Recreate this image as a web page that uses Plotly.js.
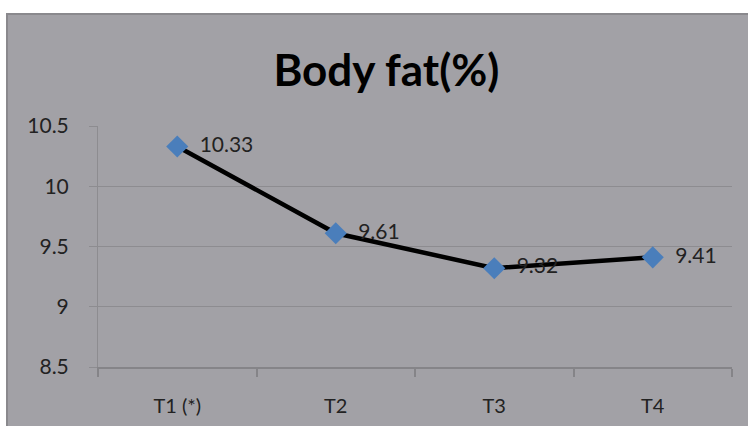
<!DOCTYPE html>
<html><head><meta charset="utf-8">
<script src="https://cdn.plot.ly/plotly-3.0.1.min.js"></script>
<style>
html,body{margin:0;padding:0;background:#fff;width:748px;height:426px;overflow:hidden;}
#frame{position:absolute;left:6px;top:13px;width:760px;height:430px;background:#a2a1a6;border:2px solid #8a898d;box-sizing:border-box;}
#chart{position:absolute;left:0;top:0;width:742px;height:413px;}
</style></head><body>
<div id="frame"><div id="chart"></div></div>
<script>
const categories = ["T1 (*)", "T2", "T3", "T4"];
const bodyFat = [10.33, 9.61, 9.32, 9.41];
const labels = bodyFat.map(v => "  " + v.toFixed(2));
const yTicks = [8.5, 9, 9.5, 10, 10.5];
const yTickText = ["8.5", "9", "9.5", "10", "10.5"];

const font = "Lato, 'Open Sans', sans-serif";
Plotly.newPlot("chart", [{
  x: categories, y: bodyFat, type: "scatter", mode: "lines+markers+text",
  text: labels, textposition: "middle right",
  textfont: {family: font, size: 21, color: "#222"},
  line: {color: "#000", width: 4.5},
  marker: {symbol: "diamond", size: 17, color: "#4a7ebb"},
  cliponaxis: false, hoverinfo: "none"
}], {
  width: 742, height: 413,
  margin: {l: 90, r: 18, t: 111, b: 61},
  paper_bgcolor: "rgba(0,0,0,0)", plot_bgcolor: "rgba(0,0,0,0)",
  showlegend: false,
  title: {text: "<b>Body fat(%)</b>", font: {family: font, size: 44, color: "#000"},
          x: 0.51, xanchor: "center", y: 0.865, yanchor: "middle"},
  xaxis: {type: "category", range: [-0.5, 3.5], showgrid: false,
          showline: true, linecolor: "#858488", linewidth: 2,
          ticks: "outside", tickson: "boundaries", ticklen: 8, tickcolor: "#858488", tickwidth: 2,
          tickfont: {family: font, size: 20, color: "#222"}, ticklabelstandoff: 20},
  yaxis: {range: [8.5, 10.5], tickvals: yTicks, ticktext: yTickText,
          showgrid: true, gridcolor: "#8d8c90", gridwidth: 1, zeroline: false,
          showline: true, linecolor: "#8d8c90", linewidth: 1,
          ticks: "outside", ticklen: 8, tickcolor: "#8d8c90",
          tickfont: {family: font, size: 21, color: "#222"}, ticklabelstandoff: 16}
}, {displayModeBar: false, staticPlot: true});
</script>
</body></html>
